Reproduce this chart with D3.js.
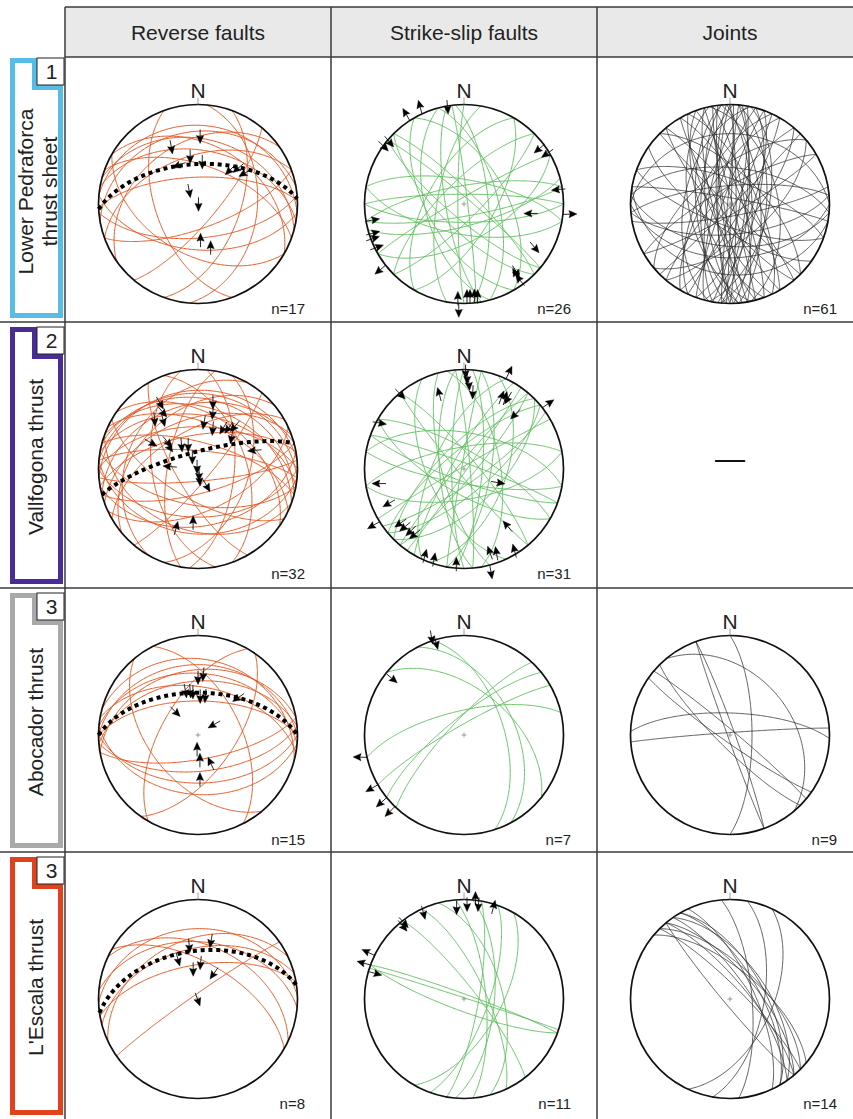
<!DOCTYPE html>
<html><head><meta charset="utf-8">
<script src="https://cdn.jsdelivr.net/npm/d3@7"></script>
<style>body{margin:0;background:#fff}svg{display:block}text{font-family:"Liberation Sans",Arial,sans-serif;fill:#222}</style>
</head><body>
<svg id="chart" width="853" height="1119"></svg>
<script>
// ---------- DATA ----------
const columns = ["Reverse faults", "Strike-slip faults", "Joints"];
const rowLabels = [["Lower Pedraforca", "thrust sheet"], ["Vallfogona thrust"], ["Abocador thrust"], ["L'Escala thrust"]];
const rowNumbers = ["1", "2", "3", "3"];
const nLabels = [["n=17", "n=26", "n=61"], ["n=32", "n=31", null], ["n=15", "n=7", "n=9"], ["n=8", "n=11", "n=14"]];

// planes: [dip direction (deg), dip (deg)]
const rev1 = [[5,22],[350,28],[15,35],[10,45],[340,50],[20,58],[358,68],[30,40],[325,38],[175,62],[185,52],[160,70],[110,55],[95,40],[250,55],[130,75],[210,48]];
const ss1 = [[83,87],[85,70],[260,75],[270,85],[45,80],[225,70],[135,78],[315,72],[120,65],[300,60],[170,80],[350,75],[10,70],[190,65],[60,55],[240,60],[0,82],[280,68],[40,85],[220,78],[150,60],[330,85],[75,62],[255,58],[180,75],[165,72]];
const jt1 = [[90,85],[270,80],[95,75],[265,70],[85,65],[275,88],[100,82],[280,72],[80,78],[260,85],[105,68],[255,76],[70,80],[290,84],[110,72],[250,66],[75,88],[285,78],[95,60],[265,62],[120,80],[240,82],[60,75],[300,70],[115,86],[245,74],[88,72],[272,66],[130,70],[230,78],[50,82],[310,80],[102,58],[258,56],[92,89],[268,79],[0,30],[180,45],[5,60],[175,65],[355,75],[185,55],[10,85],[170,80],[140,60],[320,62],[45,65],[215,70],[150,82],[330,77],[20,70],[200,72],[78,50],[282,52],[97,77],[263,83],[135,88],[225,88],[65,68],[295,64],[190,30]];
const rev2 = [[5,25],[15,30],[355,22],[20,38],[345,35],[10,45],[0,55],[340,48],[25,52],[350,62],[15,68],[330,58],[5,75],[35,45],[320,40],[180,50],[170,42],[190,60],[165,70],[200,38],[175,80],[155,55],[210,65],[185,35],[110,48],[95,60],[260,52],[280,65],[240,72],[130,80],[70,50],[300,30]];
const ss2 = [[300,80],[310,85],[320,75],[130,82],[140,70],[125,88],[295,65],[135,60],[315,70],[145,78],[85,85],[270,80],[95,75],[265,70],[80,60],[280,88],[100,68],[255,72],[200,80],[20,85],[30,75],[210,70],[50,80],[230,85],[170,65],[350,72],[10,60],[190,78],[110,55],[245,60],[330,88]];
const rev3 = [[0,30],[5,38],[355,45],[10,50],[350,35],[15,25],[0,62],[180,50],[175,60],[185,40],[170,70],[63,55],[125,60],[300,60],[230,50]];
const ss3 = [[39,52],[72,57],[62,48],[347,70],[330,82],[321,76],[313,78]];
const jt3 = [[40,86],[215,84],[250,88],[70,86],[90,72],[50,38],[2,72],[356,88],[225,80]];
const rev4 = [[358,30],[5,42],[345,48],[335,40],[25,45],[325,86],[30,60],[350,62]];
const ss4 = [[20,86],[18,89],[200,80],[52,80],[65,72],[85,72],[95,65],[110,70],[100,78],[120,60],[75,58]];
const jt4 = [[50,68],[45,64],[55,74],[60,62],[50,76],[40,66],[65,70],[55,60],[45,80],[60,66],[230,85],[100,62],[115,55],[85,72]];

// best-fit girdles (dotted): [dip direction, dip]
const girdle1 = [357,57], girdle2 = [345,76], girdle3 = [0,55], girdle4 = [352,50];

// slip arrows: [trend, plunge, arrow azimuth, anchor (1 = head at point, 0 = tail at point)]
const arr_rev1 = [[2,39,180,1],[333,43,170,1],[325,53,250,1],[349,56,180,1],[7,61,180,1],[43,57,225,1],[48,51,230,1],[56,49,240,1],[309,82,170,1],[176,84,180,1],[175,66,0,1],[161,58,0,1]];
const arr_ss1 = [[327,0,330,0],[335,0,345,0],[350,9,175,1],[309,10,140,1],[305,8,135,1],[54,14,230,1],[59,10,235,1],[81,12,265,1],[99,39,270,1],[96,0,88,0],[260,15,80,1],[252,12,75,1],[249,10,72,1],[243,10,70,1],[232,0,230,0],[123,11,140,1],[143,20,330,1],[144,13,320,1],[143,8,150,1],[184,13,0,1],[178,15,0,1],[176,15,0,1],[173,15,0,1],[171,14,0,1],[183,0,180,0]];
const arr_rev2 = [[329,39,140,1],[330,31,150,1],[315,39,175,1],[322,45,165,1],[14,38,180,1],[16,47,185,1],[7,57,190,1],[32,56,210,1],[37,53,215,1],[41,49,220,1],[23,60,185,1],[299,51,120,1],[310,62,140,1],[304,65,145,1],[317,71,175,1],[330,74,180,1],[275,61,275,1],[310,84,180,1],[191,86,180,1],[175,80,180,1],[173,76,175,1],[152,69,150,1],[70,46,265,1],[52,56,190,1],[201,43,15,1],[186,51,0,1]];
const arr_ss2 = [[1,10,180,1],[2,16,182,1],[4,22,175,1],[7,30,182,1],[342,15,345,1],[320,9,135,1],[29,12,15,1],[27,13,20,1],[32,24,210,1],[43,32,225,1],[25,0,25,0],[52,0,55,0],[300,11,100,1],[261,7,270,1],[110,54,100,1],[245,11,240,1],[238,0,240,0],[230,10,235,1],[226,11,230,1],[221,12,225,1],[218,12,230,1],[205,12,15,1],[199,12,10,1],[185,12,0,1],[163,20,340,1],[158,17,350,1],[147,11,345,1],[143,35,320,1],[165,0,170,0]];
const arr_rev3 = [[0,48,180,1],[5,45,185,1],[343,58,170,1],[349,59,175,1],[352,60,180,1],[4,64,180,1],[12,63,185,1],[46,50,235,1],[316,69,135,1],[55,80,240,1],[187,84,0,1],[174,75,0,1],[156,70,335,1],[177,59,0,1]];
const arr_ss3 = [[308,16,130,1],[341,4,170,1],[343,11,165,1],[257,0,272,0],[240,0,240,0],[231,0,228,0],[224,0,225,0]];
const arr_rev4 = [[13,46,190,1],[350,51,175,1],[331,59,165,1],[348,71,180,1],[4,66,185,1],[31,71,215,1],[164,84,160,1]];
const arr_ss4 = [[296,0,295,0],[290,0,285,0],[286,0,105,0],[320,12,140,1],[322,10,138,1],[334,12,165,1],[355,16,180,1],[2,13,180,1],[7,6,0,0],[9,12,185,1],[18,11,15,0]];

const panels = [
  {row:0, col:0, planes:rev1, arrows:arr_rev1, girdle:girdle1},
  {row:0, col:1, planes:ss1, arrows:arr_ss1},
  {row:0, col:2, planes:jt1, arrows:[]},
  {row:1, col:0, planes:rev2, arrows:arr_rev2, girdle:girdle2},
  {row:1, col:1, planes:ss2, arrows:arr_ss2},
  {row:1, col:2, empty:true},
  {row:2, col:0, planes:rev3, arrows:arr_rev3, girdle:girdle3},
  {row:2, col:1, planes:ss3, arrows:arr_ss3},
  {row:2, col:2, planes:jt3, arrows:[]},
  {row:3, col:0, planes:rev4, arrows:arr_rev4, girdle:girdle4},
  {row:3, col:1, planes:ss4, arrows:arr_ss4},
  {row:3, col:2, planes:jt4, arrows:[]}
];

// ---------- LAYOUT / STYLE ----------
const svg = d3.select("#chart");
const colX = [65, 331, 597, 863];
const rowY = [57, 322, 588, 852, 1119];
const headerTop = 7;
const R = 99.5;
const planeColor = ["#e65a26", "#5fbf5f", "#2a2a2a"];
const planeWidth = [1.0, 0.95, 0.75];
const frameColors = ["#58bde6", "#4a2c99", "#a9a9a9", "#e0431c"];
const gridColor = "#3a3a3a";
const deg = Math.PI / 180;

// equal-area lower-hemisphere projection (unit radius)
function proj(trend, plunge) {
  const r = Math.SQRT2 * Math.sin((90 - plunge) * deg / 2);
  return [r * Math.sin(trend * deg), r * Math.cos(trend * deg)];
}
function greatCircle(dd, dip) {
  const s = (dd - 90) * deg, d = dd * deg, p = dip * deg;
  const S = [Math.cos(s), Math.sin(s), 0];
  const D = [Math.cos(p) * Math.cos(d), Math.cos(p) * Math.sin(d), Math.sin(p)];
  const pts = [];
  for (let a = 0; a <= 180; a += 1) {
    const ca = Math.cos(a * deg), sa = Math.sin(a * deg);
    const v = [ca * S[0] + sa * D[0], ca * S[1] + sa * D[1], Math.max(0, ca * S[2] + sa * D[2])];
    const pl = Math.asin(Math.min(1, v[2])) / deg;
    const tr = Math.atan2(v[1], v[0]) / deg;
    pts.push(proj(tr, pl));
  }
  return pts;
}

// header background
svg.append("rect").attr("x", colX[0]).attr("y", headerTop).attr("width", 853 - colX[0]).attr("height", rowY[0] - headerTop).attr("fill", "#e9e9e9");
svg.selectAll("text.col").data(columns).join("text").attr("class", "col")
  .attr("x", (d, i) => (colX[i] + colX[i + 1]) / 2).attr("y", 40)
  .attr("text-anchor", "middle").attr("font-size", 21).text(d => d);

// left frames
rowLabels.forEach((lab, j) => {
  const top = rowY[j] + (j === 0 ? 1 : 5);
  const bot = rowY[j + 1] - 4;
  const g = svg.append("g");
  g.append("rect").attr("x", 10).attr("y", top).attr("width", 53).attr("height", bot - top).attr("fill", frameColors[j]);
  const bx = 37, bh = 27;
  g.append("path").attr("fill", "#fff")
    .attr("d", `M15,${top + 5}H32V${top + bh + 5}H58V${bot - 5}H15Z`);
  g.append("rect").attr("x", bx).attr("y", top).attr("width", 64 - bx).attr("height", bh)
    .attr("fill", "#fff").attr("stroke", "#222").attr("stroke-width", 1);
  g.append("text").attr("x", 51.5).attr("y", top + 21).attr("text-anchor", "middle").attr("font-size", 21).text(rowNumbers[j]);
  const cyL = (rowY[j] + rowY[j + 1]) / 2 + 2;
  const bases = lab.length === 2 ? [33, 57] : [43];
  lab.forEach((t, k) => {
    g.append("text").attr("transform", `translate(${bases[k]},${cyL}) rotate(-90)`)
      .attr("text-anchor", "middle").attr("font-size", 21).text(t);
  });
});

// panels
panels.forEach(pn => {
  const cx = (colX[pn.col] + colX[pn.col + 1]) / 2;
  const cy = rowY[pn.row] + 147;
  const g = svg.append("g");
  if (pn.empty) {
    g.append("text").attr("x", cx).attr("y", (rowY[pn.row] + rowY[pn.row + 1]) / 2 + 14)
      .attr("text-anchor", "middle").attr("font-size", 30).style("fill", "#111").text("—");
    return;
  }
  const x = d3.scaleLinear().domain([-1, 1]).range([cx - R, cx + R]);
  const y = d3.scaleLinear().domain([-1, 1]).range([cy + R, cy - R]);
  const line = d3.line().x(d => x(d[0])).y(d => y(d[1]));
  g.selectAll("path.gc").data(pn.planes).join("path").attr("class", "gc")
    .attr("d", d => line(greatCircle(d[0], d[1])))
    .attr("fill", "none").attr("stroke", planeColor[pn.col]).attr("stroke-width", planeWidth[pn.col]);
  // centre cross
  g.append("path").attr("d", `M${x(0) - 2.5},${y(0)}H${x(0) + 2.5}M${x(0)},${y(0) - 2.5}V${y(0) + 2.5}`)
    .attr("stroke", "#777").attr("stroke-width", 0.7);
  // primitive circle
  g.append("circle").attr("cx", x(0)).attr("cy", y(0)).attr("r", x(1) - x(0))
    .attr("fill", "none").attr("stroke", "#111").attr("stroke-width", 1.7);
  // girdle
  if (pn.girdle) {
    g.append("path").attr("d", line(greatCircle(pn.girdle[0], pn.girdle[1])))
      .attr("fill", "none").attr("stroke", "#000").attr("stroke-width", 4).attr("stroke-dasharray", "4 3.8");
  }
  // arrows
  pn.arrows.forEach(a => {
    const [tr, pl, dir, anchor] = a;
    const P = proj(tr, pl);
    const px = x(P[0]), py = y(P[1]);
    const ux = Math.sin(dir * deg), uy = -Math.cos(dir * deg);
    const L = 14, h = 8, w = 3.6;
    let tx, ty, sx, sy;
    if (anchor) { tx = px; ty = py; sx = px - L * ux; sy = py - L * uy; }
    else { sx = px; sy = py; tx = px + L * ux; ty = py + L * uy; }
    g.append("line").attr("x1", sx).attr("y1", sy).attr("x2", tx - h * ux * 0.6).attr("y2", ty - h * uy * 0.6)
      .attr("stroke", "#111").attr("stroke-width", 0.9);
    const bx = tx - h * ux, by = ty - h * uy;
    g.append("path").attr("d", `M${tx},${ty}L${bx - w * uy},${by + w * ux}L${bx + 0.15 * h * ux},${by + 0.15 * h * uy}L${bx + w * uy},${by - w * ux}Z`)
      .attr("fill", "#000").attr("stroke", "#000").attr("stroke-width", 0.4);
  });
  // N label and tick
  g.append("line").attr("x1", cx).attr("x2", cx).attr("y1", cy - R - 7).attr("y2", cy - R)
    .attr("stroke", "#888").attr("stroke-width", 0.8);
  g.append("text").attr("x", cx).attr("y", cy - R - 7).attr("text-anchor", "middle").attr("font-size", 21).text("N");
  const nl = nLabels[pn.row][pn.col];
  if (nl) g.append("text").attr("x", cx + 107).attr("y", cy + 110).attr("text-anchor", "end").attr("font-size", 15).text(nl);
});

// grid lines
const gl = svg.append("g").attr("stroke", gridColor).attr("stroke-width", 1.5);
gl.append("line").attr("x1", colX[0]).attr("x2", 853).attr("y1", headerTop).attr("y2", headerTop);
gl.append("line").attr("x1", colX[0]).attr("x2", 853).attr("y1", rowY[0]).attr("y2", rowY[0]);
[rowY[1], rowY[2], rowY[3]].forEach(yy => gl.append("line").attr("x1", 0).attr("x2", 853).attr("y1", yy).attr("y2", yy));
[colX[0], colX[1], colX[2]].forEach(xx => gl.append("line").attr("x1", xx).attr("x2", xx).attr("y1", headerTop).attr("y2", 1119));
</script>
</body></html>
